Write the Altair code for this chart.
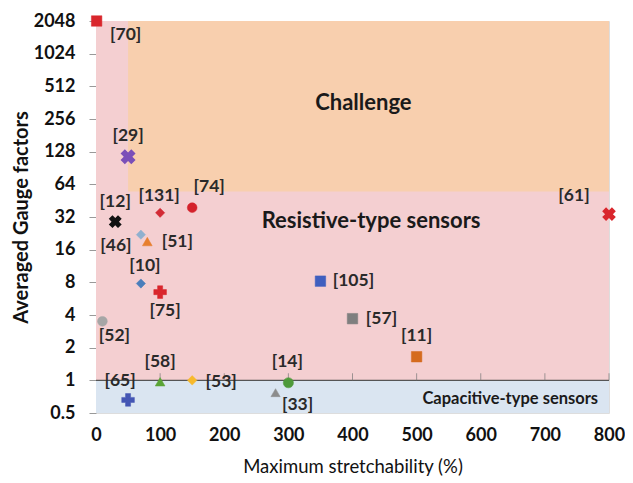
import altair as alt
import pandas as pd

# ---- data ----
refs = ["[70]", "[29]", "[12]", "[131]", "[74]", "[46]", "[51]", "[10]", "[75]", "[52]",
        "[65]", "[58]", "[53]", "[33]", "[14]", "[105]", "[57]", "[11]", "[61]"]
stretch = [1, 50, 30, 100, 150, 70, 80, 70, 100, 10,
           50, 100, 150, 280, 300, 350, 400, 500, 800]
gauge = [2048, 115, 29, 35, 39, 22, 19, 7.8, 6.5, 3.5,
         0.66, 0.97, 1.0, 0.77, 0.95, 8.2, 3.7, 1.65, 34]

region_names = ["Resistive", "Challenge", "Capacitive"]
region_x = [0, 50, 0]
region_x2 = [800, 800, 800]
region_y = [1, 55, 0.5]
region_y2 = [2048, 2048, 1]

region_text = ["Challenge", "Resistive-type sensors", "Capacitive-type sensors"]
region_text_x = [417, 429, 646]
region_text_y = [359, 29.4, 0.673]

x_ticks = [0, 100, 200, 300, 400, 500, 600, 700, 800]
y_ticks = [0.5, 1, 2, 4, 8, 16, 32, 64, 128, 256, 512, 1024, 2048]

# ---- styles ----
FONT = "Lato"
PW, PH = 513, 392
style = {
    "[70]": ("square", "#d9262c", 0, 110, 29, 14),
    "[29]": ("cross", "#7a4fb8", 45, 230, 0, -21),
    "[12]": ("cross", "#111111", 45, 170, 0, -20),
    "[131]": ("diamond", "#d22b35", 0, 85, -1, -17),
    "[74]": ("circle", "#d4222b", 0, 95, 17, -21),
    "[46]": ("diamond", "#8fb0cf", 0, 85, -25, 11),
    "[51]": ("triangle-up", "#e77f2e", 0, 95, 30, 0),
    "[10]": ("diamond", "#4a7ebb", 0, 85, 4, -18),
    "[75]": ("cross", "#d9262c", 0, 160, 5, 19),
    "[52]": ("circle", "#a6a6a6", 0, 95, 12, 15),
    "[65]": ("cross", "#4456b4", 0, 160, -8, -19),
    "[58]": ("triangle-up", "#5aa436", 0, 95, 0, -20),
    "[53]": ("diamond", "#f7b92c", 0, 90, 29, 2),
    "[33]": ("triangle-up", "#8c8c8c", 0, 85, 22, 12),
    "[14]": ("circle", "#4e9a3a", 0, 105, -1, -21),
    "[105]": ("square", "#3f5fbf", 0, 110, 33, 0),
    "[57]": ("square", "#7f7f7f", 0, 110, 29, 0),
    "[11]": ("square", "#d56b1e", 0, 110, 0, -21),
    "[61]": ("cross", "#d9262c", 45, 190, -35, -18),
}

region_colors = {"Resistive": "#f4cfd1", "Challenge": "#f8cfae", "Capacitive": "#dae5f1"}
region_text_size = {"Challenge": 22, "Resistive-type sensors": 22, "Capacitive-type sensors": 16.5}

pts = pd.DataFrame({"ref": refs, "x": stretch, "y": gauge})
regions = pd.DataFrame({"name": region_names, "x": region_x, "x2": region_x2,
                        "y": region_y, "y2": region_y2,
                        "color": [region_colors[n] for n in region_names]})

xscale = alt.Scale(domain=[0, 800], nice=False, zero=False)
yscale = alt.Scale(type="log", base=2, domain=[0.5, 2048], nice=False)

xaxis = alt.Axis(values=x_ticks, title="Maximum stretchability (%)", grid=False, ticks=False,
                 domain=False, labelFont=FONT, labelFontSize=18, labelFontWeight="bold",
                 labelColor="#111", labelPadding=13, titleFont=FONT, titleFontSize=18.5,
                 titleFontWeight="normal", titleColor="#111", titlePadding=13, labelFlush=False,
                 offset=0)
yaxis = alt.Axis(values=y_ticks, title="Averaged Gauge factors", grid=False, ticks=True,
                 tickSize=7, tickColor="#999", domain=False, labelFont=FONT, labelFontSize=18,
                 labelFontWeight="bold", labelColor="#111", labelPadding=14, labelAlign="right",
                 labelExpr="datum.value", titleFont=FONT, titleFontSize=20,
                 titleFontWeight="bold", titleColor="#111", titlePadding=2, offset=0)

X = lambda: alt.X("x:Q", scale=xscale, axis=xaxis)
Y = lambda: alt.Y("y:Q", scale=yscale, axis=yaxis)

bg = alt.Chart(regions).mark_rect(opacity=1).encode(
    x=X(), x2="x2:Q", y=Y(), y2="y2:Q",
    color=alt.Color("color:N", scale=None),
)

sep = alt.Chart(pd.DataFrame({"y": [1]})).mark_rule(color="#555", strokeWidth=1.2).encode(
    y=Y(), x=alt.value(0), x2=alt.value(PW))

ticks1 = alt.Chart(pd.DataFrame({"x": x_ticks[1:], "y": [1] * 8})).mark_tick(
    orient="vertical", size=7, yOffset=-3.5, color="#777", thickness=1).encode(x=X(), y=Y())

rt = pd.DataFrame({"t": region_text, "x": region_text_x, "y": region_text_y})
rtexts = []
for t in region_text:
    rtexts.append(alt.Chart(rt[rt.t == t]).mark_text(
        font=FONT, fontWeight="bold", fontSize=region_text_size[t], color="#1a1a1a").encode(
        x=X(), y=Y(), text="t:N"))

marks = []
labels = []
for r in refs:
    shape, color, ang, size, dx, dy = style[r]
    sub = pts[pts.ref == r]
    marks.append(alt.Chart(sub).mark_point(
        shape=shape, filled=True, fill=color, stroke=color, strokeWidth=0.5 if ang == 0 else 0,
        size=size, angle=ang, opacity=1).encode(x=X(), y=Y()))
    labels.append(alt.Chart(sub).mark_text(
        font=FONT, fontWeight="bold", fontSize=17.5, color="#2a2a2a", dx=dx, dy=dy).encode(
        x=X(), y=Y(), text="ref:N"))

chart = alt.layer(bg, sep, ticks1, *rtexts, *marks, *labels).properties(
    width=PW, height=PH,
    autosize=alt.AutoSizeParams(type="none"),
    padding={"left": 88, "top": 13, "right": 16, "bottom": 70},
).configure_view(stroke="#333", strokeWidth=1.5).configure(background="white")

chart.save("out.html", embed_options={"renderer": "svg", "actions": False})
